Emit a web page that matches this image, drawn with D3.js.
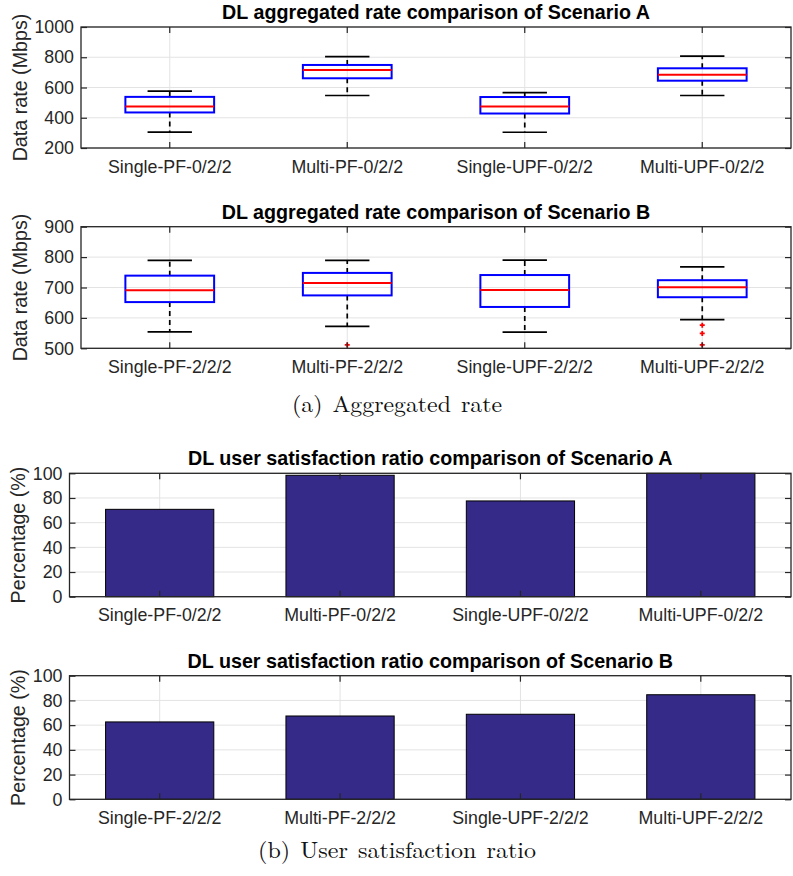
<!DOCTYPE html>
<html>
<head>
<meta charset="utf-8">
<script src="https://cdn.jsdelivr.net/npm/d3@7"></script>
<style>
  body { margin: 0; background: #fff; }
  svg { display: block; }
</style>
</head>
<body>
<svg id="fig" width="793" height="876"></svg>
<script>
// ---- data ----
const categoriesA = ["Single-PF-0/2/2", "Multi-PF-0/2/2", "Single-UPF-0/2/2", "Multi-UPF-0/2/2"];
const categoriesB = ["Single-PF-2/2/2", "Multi-PF-2/2/2", "Single-UPF-2/2/2", "Multi-UPF-2/2/2"];

// box summaries per scheme: [lower whisker, Q1, median, Q3, upper whisker] in Mbps
const rateA = [
  [305, 435, 475, 538, 576],
  [547, 661, 716, 749, 804],
  [304, 428, 474, 537, 566],
  [547, 645, 685, 727, 808]
];
const rateB = [
  [554, 652, 691, 739, 789],
  [572, 674, 715, 748, 789],
  [553, 636, 692, 741, 790],
  [594, 668, 701, 724, 768]
];
const outliersA = [[], [], [], []];
const outliersB = [[], [511], [], [576, 549, 511]];

// user satisfaction ratio (%)
const satisfactionA = [70.8, 98.4, 77.6, 100];
const satisfactionB = [62.6, 67.4, 68.8, 84.6];

const rateTicksA = [200, 400, 600, 800, 1000];
const rateTicksB = [500, 600, 700, 800, 900];
const pctTicks = [0, 20, 40, 60, 80, 100];

// ---- drawing ----
const svg = d3.select("#fig");
const FONT = "'Liberation Sans', Arial, Helvetica, sans-serif";
const AX = "#262626";
const TICK_FS = 17.8, LABEL_FS = 19.7;

function panel(opt) {
  const { left, right, top, bottom, categories, yDomain, yTicks, title, ylabel, ylabelX, marks } = opt;
  const g = svg.append("g");
  const x = d3.scaleBand().domain(categories).range([left, right]).padding(0);
  const y = d3.scaleLinear().domain(yDomain).range([bottom, top]);
  const cx = c => x(c) + x.bandwidth() / 2;

  // grid
  const grid = g.append("g").attr("stroke", "#e3e3e3").attr("stroke-width", 1);
  grid.selectAll(".gx").data(categories).join("line")
    .attr("x1", cx).attr("x2", cx).attr("y1", top).attr("y2", bottom);
  grid.selectAll(".gy").data(yTicks).join("line")
    .attr("x1", left).attr("x2", right).attr("y1", d => y(d)).attr("y2", d => y(d));

  // data marks
  marks(g.append("g"), x, y, cx);

  // ticks on all four sides, pointing inward
  const tickStyle = sel => {
    sel.select(".domain").remove();
    sel.selectAll(".tick line").attr("stroke", AX).attr("stroke-width", 1.2);
    sel.selectAll(".tick text").attr("fill", AX).style("font-family", FONT).style("font-size", TICK_FS + "px");
  };
  const fmt = d3.format("d");
  g.append("g").attr("transform", `translate(0,${bottom})`)
    .call(d3.axisBottom(x).tickSize(-6).tickPadding(12)).call(tickStyle);
  g.append("g").attr("transform", `translate(0,${top})`)
    .call(d3.axisTop(x).tickSize(-6).tickFormat("")).call(tickStyle);
  g.append("g").attr("transform", `translate(${left},0)`)
    .call(d3.axisLeft(y).tickValues(yTicks).tickFormat(fmt).tickSize(-6).tickPadding(7)).call(tickStyle);
  g.append("g").attr("transform", `translate(${right},0)`)
    .call(d3.axisRight(y).tickValues(yTicks).tickSize(-6).tickFormat("")).call(tickStyle);

  // frame
  g.append("rect").attr("x", left).attr("y", top)
    .attr("width", right - left).attr("height", bottom - top)
    .attr("fill", "none").attr("stroke", AX).attr("stroke-width", 1.3);

  // title
  g.append("text").attr("x", (left + right) / 2).attr("y", top - 8)
    .attr("text-anchor", "middle").attr("fill", "#000")
    .style("font-family", FONT).style("font-weight", "bold").style("font-size", LABEL_FS + "px")
    .text(title);

  // y label
  g.append("text")
    .attr("transform", `translate(${ylabelX},${(top + bottom) / 2}) rotate(-90)`)
    .attr("text-anchor", "middle").attr("fill", AX)
    .style("font-family", FONT).style("font-size", LABEL_FS + "px")
    .text(ylabel);
}

function boxMarks(stats, outliers) {
  return (g, x, y, cx) => {
    const bw = x.bandwidth();
    x.domain().forEach((c, i) => {
      const [lo, q1, med, q3, hi] = stats[i];
      const xc = cx(c);
      // dashed whiskers
      [[q3, hi], [q1, lo]].forEach(([a, b]) => {
        g.append("line").attr("x1", xc).attr("x2", xc).attr("y1", y(a)).attr("y2", y(b))
          .attr("stroke", "#000").attr("stroke-width", 1.7).attr("stroke-dasharray", "5,4");
      });
      // whisker caps
      [lo, hi].forEach(v => {
        g.append("line").attr("x1", xc - bw * 0.125).attr("x2", xc + bw * 0.125)
          .attr("y1", y(v)).attr("y2", y(v)).attr("stroke", "#000").attr("stroke-width", 1.7);
      });
      // box
      g.append("rect").attr("x", xc - bw * 0.25).attr("width", bw * 0.5)
        .attr("y", y(q3)).attr("height", y(q1) - y(q3))
        .attr("fill", "none").attr("stroke", "#0000ff").attr("stroke-width", 2);
      // median
      g.append("line").attr("x1", xc - bw * 0.25).attr("x2", xc + bw * 0.25)
        .attr("y1", y(med)).attr("y2", y(med)).attr("stroke", "#ff0000").attr("stroke-width", 2);
      // outliers
      outliers[i].forEach(v => {
        const py = y(v);
        g.append("path").attr("d", `M${xc - 2.5},${py}H${xc + 2.5}M${xc},${py - 2.5}V${py + 2.5}`)
          .attr("stroke", "#ff0000").attr("stroke-width", 1.8);
      });
    });
  };
}

function barMarks(values) {
  return (g, x, y, cx) => {
    const bw = x.bandwidth() * 0.6;
    g.selectAll("rect").data(x.domain()).join("rect")
      .attr("x", c => cx(c) - bw / 2).attr("width", bw)
      .attr("y", (c, i) => y(values[i])).attr("height", (c, i) => y(0) - y(values[i]))
      .attr("fill", "#352a87").attr("stroke", "#000").attr("stroke-width", 1);
  };
}

panel({
  left: 81, right: 791, top: 27, bottom: 148,
  categories: categoriesA, yDomain: [200, 1000], yTicks: rateTicksA,
  title: "DL aggregated rate comparison of Scenario A", ylabel: "Data rate (Mbps)", ylabelX: 27,
  marks: boxMarks(rateA, outliersA)
});
panel({
  left: 81, right: 791, top: 226.7, bottom: 348.3,
  categories: categoriesB, yDomain: [500, 900], yTicks: rateTicksB,
  title: "DL aggregated rate comparison of Scenario B", ylabel: "Data rate (Mbps)", ylabelX: 27,
  marks: boxMarks(rateB, outliersB)
});
panel({
  left: 69.5, right: 791, top: 473.3, bottom: 596.7,
  categories: categoriesA, yDomain: [0, 100], yTicks: pctTicks,
  title: "DL user satisfaction ratio comparison of Scenario A", ylabel: "Percentage (%)", ylabelX: 25,
  marks: barMarks(satisfactionA)
});
panel({
  left: 69.5, right: 791, top: 675.7, bottom: 799.3,
  categories: categoriesB, yDomain: [0, 100], yTicks: pctTicks,
  title: "DL user satisfaction ratio comparison of Scenario B", ylabel: "Percentage (%)", ylabelX: 25,
  marks: barMarks(satisfactionB)
});

// sub-figure captions, widened horizontally to the caption column width
const SERIF = "'Latin Modern Roman', 'CMU Serif', 'Liberation Serif', 'Times New Roman', serif";
[["(a) Aggregated rate", 412, 210], ["(b) User satisfaction ratio", 858, 278]].forEach(([t, yy, len]) => {
  const g = svg.append("g");
  const txt = g.append("text").attr("x", 0).attr("y", 0).attr("text-anchor", "middle")
    .attr("fill", "#111").style("font-family", SERIF).style("font-size", "22.5px")
    .style("word-spacing", "2px")
    .text(t);
  const w = txt.node().getComputedTextLength();
  g.attr("transform", `translate(397,${yy}) scale(${len / w},1)`);
});
</script>
</body>
</html>
